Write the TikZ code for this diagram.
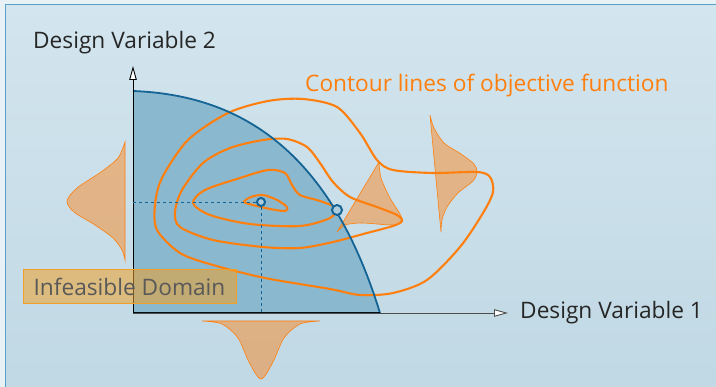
\documentclass[tikz,border=0pt]{standalone}
\usepackage{fontspec}
\setmainfont{Open Sans}
\usetikzlibrary{arrows.meta,positioning,calc}

\definecolor{bgtop}{RGB}{211,229,238}
\definecolor{bgbot}{RGB}{191,216,228}
\definecolor{bgout}{RGB}{232,242,246}
\definecolor{framec}{RGB}{90,160,200}
\definecolor{feas}{RGB}{138,184,207}
\definecolor{bound}{RGB}{20,100,150}
\definecolor{contour}{RGB}{255,127,14}
\definecolor{infeasfill}{RGB}{240,160,40}

\begin{document}
\begin{tikzpicture}[x=1pt, y=-1pt,
    label/.style={font=\fontsize{22.7}{27}\selectfont, text=black!85, inner sep=0pt},
    contourline/.style={draw=contour, line width=2.1pt},
    distrib/.style={draw=contour, fill=contour, fill opacity=0.45, line width=0.6pt},
    axis/.style={line width=0.9pt, -{Triangle[length=14pt, width=7.5pt, fill=white]}},
    optpoint/.style={circle, draw=bound, line width=2pt, fill=feas!70!white, minimum size=9pt, inner sep=0pt},
    guide/.style={draw=bound, dashed, line width=0.7pt}
]
\clip (0,0) rectangle (716,387);
\fill[bgout] (0,0) rectangle (716,387);
\shade[top color=bgtop, bottom color=bgbot, draw=framec, line width=1pt] (5,5) rectangle (740,410);

\coordinate (O) at (133,313);
\coordinate (xend) at (508,313);
\coordinate (yend) at (133,66);
\coordinate (ytop) at (133,91);
\coordinate (xcut) at (380,313);

% feasible domain
\fill[feas] (O) -- (ytop) .. controls (240,95) and (330,150) .. (xcut) -- cycle;

% distributions
\filldraw[distrib] plot[smooth] coordinates {(125,142) (118,158) (101,172) (77,188) (67,201) (74,212) (95,225) (113,238) (122,250) (125,260)} -- cycle;
\filldraw[distrib] plot[smooth] coordinates {(202,321) (222,324) (238,338) (249,362) (261,379) (273,362) (284,338) (300,324) (320,321)} -- cycle;
\filldraw[distrib] plot[smooth] coordinates {(379,162) (381,178) (390,198) (400,214) (402,222) (392,225) (362,223) (345,225) (337,232)} -- cycle;
\filldraw[distrib] plot[smooth] coordinates {(430,115) (434,128) (444,143) (461,154) (474,164) (477,172) (473,181) (458,193) (447,207) (442,220) (441,232)} -- cycle;

% contour lines
\draw[contourline] plot[smooth cycle] coordinates {(244,202) (251,197) (263,195) (277,200) (287,207) (285,211) (270,209) (253,205)};
\draw[contourline] plot[smooth cycle] coordinates {(193,203) (205,190) (240,178) (268,170) (285,173) (292,185) (300,195) (320,201) (336,208) (330,218) (300,226) (250,224) (210,215)};
\draw[contourline] plot[smooth cycle] coordinates {(175,212) (182,190) (203,163) (230,148) (263,140) (287,139) (307,147) (320,163) (333,182) (350,197) (377,207) (397,215) (402,221) (393,226) (367,233) (333,242) (300,248) (263,247) (213,240) (180,227)};
\draw[contourline] plot[smooth cycle] coordinates {(155,205) (162,178) (188,140) (228,113) (268,101) (303,99) (337,107) (360,133) (377,160) (393,170) (433,173) (477,172) (490,177) (493,192) (483,213) (460,247) (427,280) (393,293) (360,295) (330,289) (265,278) (213,265) (180,253) (157,230)};

% constraint boundary
\draw[bound, line width=1.8pt] (ytop) .. controls (240,95) and (330,150) .. (xcut);

% axes
\draw[axis, black!70] (O) -- (xend);
\draw[line width=1pt, black!85!bound] (O) -- (xcut);
\draw[axis] (O) -- (yend);

% optima
\node[optpoint, minimum size=8pt] (opt) at (261,202) {};
\node[optpoint, minimum size=10pt] (copt) at (337,210) {};
\draw[guide] (O |- opt) -- (opt);
\draw[guide] (opt) -- (opt |- O);

% labels
\node[label, draw=infeasfill, line width=0.8pt, fill=infeasfill, fill opacity=0.55, text opacity=1, text=black!65, minimum width=213pt, minimum height=34pt] (infeas) at (129.5,286.5) {Infeasible Domain};
\node[label, anchor=west] (dv2) at (33,43) {Design Variable 2};
\node[label, right=12pt of xend] (dv1) {Design Variable 1};
\node[label, text=contour, anchor=west] (contourtext) at (305,86) {Contour lines of objective function};

\end{tikzpicture}
\end{document}
